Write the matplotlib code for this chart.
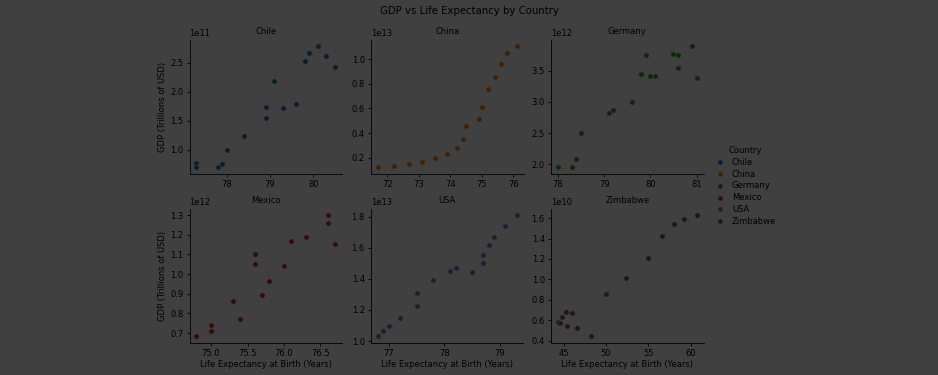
import matplotlib
matplotlib.use("Agg")
import matplotlib.pyplot as plt
from matplotlib.patches import Rectangle
from matplotlib.lines import Line2D
from matplotlib.ticker import MultipleLocator

countries = ["Chile", "China", "Germany", "Mexico", "USA", "Zimbabwe"]
colors = ["#1f77b4", "#ff7f0e", "#2ca02c", "#d62728", "#9467bd", "#8c564b"]

life_chile = [77.3, 77.3, 77.8, 77.9, 78.0, 78.4, 78.9, 78.9, 79.6, 79.3, 79.1, 79.8, 79.9, 80.1, 80.3, 80.5]
gdp_chile = [7.786e10, 7.098e10, 6.974e10, 7.564e10, 9.921e10, 1.2297e11, 1.5479e11, 1.7361e11,
             1.7964e11, 1.7239e11, 2.1854e11, 2.5225e11, 2.6712e11, 2.7838e11, 2.6099e11, 2.4252e11]

life_china = [71.7, 72.2, 72.7, 73.1, 73.5, 73.9, 74.2, 74.4, 74.5, 74.9, 75.0, 75.2, 75.4, 75.6, 75.8, 76.1]
gdp_china = [1.211e12, 1.339e12, 1.471e12, 1.660e12, 1.955e12, 2.286e12, 2.752e12, 3.552e12,
             4.598e12, 5.110e12, 6.101e12, 7.573e12, 8.561e12, 9.607e12, 1.0482e13, 1.1065e13]

life_germany = [78.0, 78.3, 78.4, 78.5, 79.1, 79.2, 79.6, 79.8, 79.9, 80.0, 80.1, 80.5, 80.6, 80.6, 80.9, 81.0]
gdp_germany = [1.950e12, 1.951e12, 2.079e12, 2.506e12, 2.819e12, 2.861e12, 3.002e12, 3.440e12,
               3.752e12, 3.418e12, 3.417e12, 3.758e12, 3.544e12, 3.753e12, 3.891e12, 3.376e12]

life_mexico = [74.8, 75.0, 75.0, 75.3, 75.4, 75.6, 75.6, 75.7, 75.8, 76.0, 76.1, 76.3, 76.6, 76.6, 76.7]
gdp_mexico = [6.83e11, 7.40e11, 7.13e11, 8.64e11, 7.71e11, 1.100e12, 1.050e12, 8.95e11,
              9.65e11, 1.042e12, 1.170e12, 1.186e12, 1.300e12, 1.262e12, 1.152e12]

life_usa = [76.8, 76.9, 77.0, 77.2, 77.5, 77.5, 77.8, 78.1, 78.2, 78.5, 78.7, 78.7, 78.8, 78.9, 79.1, 79.3]
gdp_usa = [1.030e13, 1.062e13, 1.098e13, 1.151e13, 1.228e13, 1.309e13, 1.390e13, 1.448e13,
           1.472e13, 1.442e13, 1.500e13, 1.554e13, 1.620e13, 1.668e13, 1.739e13, 1.810e13]

life_zim = [46.0, 45.3, 44.8, 44.5, 44.3, 44.6, 45.4, 46.6, 48.2, 50.0, 52.4, 54.9, 56.6, 58.0, 59.2, 60.7]
gdp_zim = [6.69e9, 6.78e9, 6.34e9, 5.73e9, 5.81e9, 5.76e9, 5.44e9, 5.29e9,
           4.42e9, 8.62e9, 1.014e10, 1.210e10, 1.424e10, 1.545e10, 1.589e10, 1.630e10]

life = [life_chile, life_china, life_germany, life_mexico, life_usa, life_zim]
gdp = [gdp_chile, gdp_china, gdp_germany, gdp_mexico, gdp_usa, gdp_zim]

title = "GDP vs Life Expectancy by Country"
xlabel = "Life Expectancy at Birth (Years)"
ylabel = "GDP (Trillions of USD)"

FS = 6.0
plt.rcParams["font.family"] = ["DejaVu Sans"]
plt.rcParams["font.size"] = FS

fig = plt.figure(figsize=(9.38, 3.75), dpi=100)
fig.patch.set_facecolor("white")

W, H = 938, 375
lefts = [189.5, 371, 551]
tops = [40, 209]
aw, ah = 152.5, 133.5

for i, c in enumerate(countries):
    r, col = divmod(i, 3)
    ax = fig.add_axes([lefts[col] / W, 1 - (tops[r] + ah) / H, aw / W, ah / H])
    ax.scatter(life[i], gdp[i], s=15, color=colors[i], edgecolor="white", linewidth=0.4, zorder=3)
    ax.set_title(c, fontsize=FS, pad=4)
    ax.spines["top"].set_visible(False)
    ax.spines["right"].set_visible(False)
    for s in ["left", "bottom"]:
        ax.spines[s].set_linewidth(0.6)
    ax.tick_params(labelsize=FS, width=0.6, length=2.5, pad=2)
    ax.yaxis.get_offset_text().set_fontsize(FS)
    if c == "USA":
        ax.xaxis.set_major_locator(MultipleLocator(1))
    if col == 0:
        ax.set_ylabel(ylabel, fontsize=FS, labelpad=2)
    if r == 1:
        ax.set_xlabel(xlabel, fontsize=FS, labelpad=1.5)

handles = [Line2D([], [], marker="o", linestyle="", markersize=3.7, markerfacecolor=colors[i],
                  markeredgecolor="white", markeredgewidth=0.4) for i in range(len(countries))]
fig.legend(handles, countries, title="Country", loc="center left", bbox_to_anchor=(707 / W, 1 - 186 / H),
           frameon=False, fontsize=FS, title_fontsize=FS, handletextpad=0.9, labelspacing=0.35,
           handlelength=1.2)

fig.suptitle(title, fontsize=7.3, y=1 - 11 / H, va="center")

fig.add_artist(Rectangle((0, 0), 1, 1, transform=fig.transFigure, facecolor="black",
                         edgecolor="none", alpha=0.75, zorder=1000))

fig.savefig("out.png", dpi=100)
